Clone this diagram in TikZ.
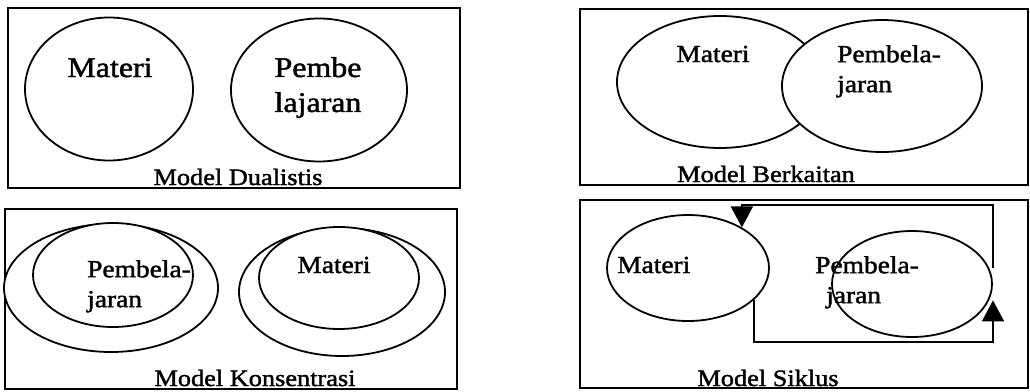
\documentclass[tikz,border=0pt]{standalone}
\usepackage{fontspec}
\setmainfont[FakeStretch=1.12, FakeBold=1.6]{Liberation Serif}
\usetikzlibrary{shapes.geometric,arrows.meta}

\newcommand{\bigtxt}{\fontsize{28.5}{35}\selectfont}
\newcommand{\midtxt}{\fontsize{24.5}{30}\selectfont}
\newcommand{\captxt}{\fontsize{23.5}{28}\selectfont}

\begin{document}
\begin{tikzpicture}[x=1pt, y=-1pt,
        panel/.style={line width=1.6pt},
        blob/.style={ellipse, draw, fill=white, line width=1.8pt, inner sep=0pt},
        cyc/.style={line width=1.8pt, -{Triangle[width=22pt,length=21pt]}},
        lbl/.style={font=\captxt, inner sep=0pt},
        word/.style={font=\midtxt, inner sep=0pt}]
            % \draw[help lines] (0,0) grid[step=50] (1030,391);
            \useasboundingbox (0,0) rectangle (1030,391);
            \draw[panel] (8,8) rectangle (460,188);
            \draw[panel] (580,9) rectangle (1028,185);
            \draw[panel] (5,209) rectangle (457,389);
            \draw[panel] (580,200) rectangle (1028,388);

            % dualistis
            \node[blob, minimum width=168pt, minimum height=143pt] (matA) at (109,89) {};
            \node[blob, minimum width=176pt, minimum height=143pt] (pemA) at (319,90) {};
            \node[font=\bigtxt, inner sep=0pt, anchor=base] (tmatA) at (110,77) {Materi};
            \node[font=\bigtxt, inner sep=0pt, align=center, anchor=north] (tpemA) at (318,57) {Pembe\\lajaran};
            \node[lbl, anchor=base] (capA) at (238,185) {Model Dualistis};

            % berkaitan
            \node[blob, minimum width=206pt, minimum height=132pt] (matB) at (720,82) {};
            \node[blob, minimum width=200pt, minimum height=132pt] (pemB) at (882,86) {};
            \node[word, anchor=base] (tmatB) at (713,62) {Materi};
            \node[word, align=left, anchor=north west] (tpemB) at (837,45) {Pembela-\\jaran};
            \node[lbl, anchor=base] (capB) at (766,182) {Model Berkaitan};

            % konsentrasi
            \node[blob, minimum width=214pt, minimum height=128pt] (outC) at (111,288) {};
            \node[blob, minimum width=160pt, minimum height=104pt] (pemC) at (113,275) {};
            \node[blob, minimum width=206pt, minimum height=128pt] (outC2) at (342,292) {};
            \node[blob, minimum width=160pt, minimum height=102pt] (matC) at (339,278) {};
            \node[word, align=left, anchor=north west] (tpemC) at (87,260) {Pembela-\\jaran};
            \node[word, anchor=base] (tmatC) at (334,273) {Materi};
            \node[lbl, anchor=base] (capC) at (255,386) {Model Konsentrasi};

            % siklus
            \node[blob, minimum width=162pt, minimum height=106pt] (matD) at (688,268) {};
            \node[blob, minimum width=160pt, minimum height=106pt] (pemD) at (912,284) {};
            \node[word, anchor=base west] (tmatD) at (617,273) {Materi};
            \node[word, align=left, anchor=north west] (tpemD) at (815,256) {Pembela-\\\hspace*{11pt}jaran};
            \node[lbl, anchor=base] (capD) at (768,386) {Model Siklus};
            \coordinate (tr) at (993,205);
            \coordinate (br) at (993,342);
            \draw[cyc] (pemD.12 -| tr) |- (matD.37 |- tr) -- (matD.37);
            \draw[cyc] (matD.-26) |- (br) -- (pemD.-12 -| br);
        \end{tikzpicture}
\end{document}
